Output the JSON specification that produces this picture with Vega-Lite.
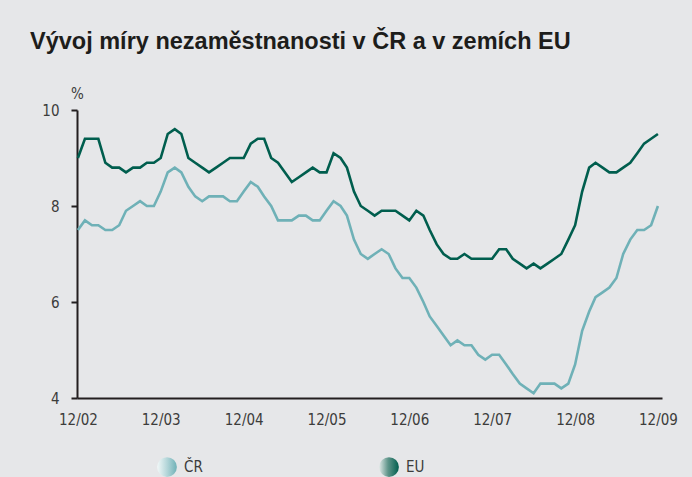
{
  "$schema": "https://vega.github.io/schema/vega-lite/v6.json",
  "width": 585,
  "height": 288,
  "autosize": {"type": "none"},
  "padding": {"left": 77, "top": 110, "right": 30, "bottom": 79},
  "background": "#e6e7e9",
  "title": {
    "text": "Vývoj míry nezaměstnanosti v ČR a v zemích EU",
    "anchor": "start",
    "frame": "group",
    "dx": -47,
    "font": "Liberation Sans, Arial, sans-serif",
    "fontSize": 23.5,
    "fontWeight": "bold",
    "color": "#1d1d1b",
    "offset": 33
  },
  "data": {
    "values": [
      {"date": "2002-12-01", "ČR": 7.5, "EU": 9.0},
      {"date": "2003-01-01", "ČR": 7.7, "EU": 9.4},
      {"date": "2003-02-01", "ČR": 7.6, "EU": 9.4},
      {"date": "2003-03-01", "ČR": 7.6, "EU": 9.4},
      {"date": "2003-04-01", "ČR": 7.5, "EU": 8.9},
      {"date": "2003-05-01", "ČR": 7.5, "EU": 8.8},
      {"date": "2003-06-01", "ČR": 7.6, "EU": 8.8},
      {"date": "2003-07-01", "ČR": 7.9, "EU": 8.7},
      {"date": "2003-08-01", "ČR": 8.0, "EU": 8.8},
      {"date": "2003-09-01", "ČR": 8.1, "EU": 8.8},
      {"date": "2003-10-01", "ČR": 8.0, "EU": 8.9},
      {"date": "2003-11-01", "ČR": 8.0, "EU": 8.9},
      {"date": "2003-12-01", "ČR": 8.3, "EU": 9.0},
      {"date": "2004-01-01", "ČR": 8.7, "EU": 9.5},
      {"date": "2004-02-01", "ČR": 8.8, "EU": 9.6},
      {"date": "2004-03-01", "ČR": 8.7, "EU": 9.5},
      {"date": "2004-04-01", "ČR": 8.4, "EU": 9.0},
      {"date": "2004-05-01", "ČR": 8.2, "EU": 8.9},
      {"date": "2004-06-01", "ČR": 8.1, "EU": 8.8},
      {"date": "2004-07-01", "ČR": 8.2, "EU": 8.7},
      {"date": "2004-08-01", "ČR": 8.2, "EU": 8.8},
      {"date": "2004-09-01", "ČR": 8.2, "EU": 8.9},
      {"date": "2004-10-01", "ČR": 8.1, "EU": 9.0},
      {"date": "2004-11-01", "ČR": 8.1, "EU": 9.0},
      {"date": "2004-12-01", "ČR": 8.3, "EU": 9.0},
      {"date": "2005-01-01", "ČR": 8.5, "EU": 9.3},
      {"date": "2005-02-01", "ČR": 8.4, "EU": 9.4},
      {"date": "2005-03-01", "ČR": 8.2, "EU": 9.4},
      {"date": "2005-04-01", "ČR": 8.0, "EU": 9.0},
      {"date": "2005-05-01", "ČR": 7.7, "EU": 8.9},
      {"date": "2005-06-01", "ČR": 7.7, "EU": 8.7},
      {"date": "2005-07-01", "ČR": 7.7, "EU": 8.5},
      {"date": "2005-08-01", "ČR": 7.8, "EU": 8.6},
      {"date": "2005-09-01", "ČR": 7.8, "EU": 8.7},
      {"date": "2005-10-01", "ČR": 7.7, "EU": 8.8},
      {"date": "2005-11-01", "ČR": 7.7, "EU": 8.7},
      {"date": "2005-12-01", "ČR": 7.9, "EU": 8.7},
      {"date": "2006-01-01", "ČR": 8.1, "EU": 9.1},
      {"date": "2006-02-01", "ČR": 8.0, "EU": 9.0},
      {"date": "2006-03-01", "ČR": 7.8, "EU": 8.8},
      {"date": "2006-04-01", "ČR": 7.3, "EU": 8.3},
      {"date": "2006-05-01", "ČR": 7.0, "EU": 8.0},
      {"date": "2006-06-01", "ČR": 6.9, "EU": 7.9},
      {"date": "2006-07-01", "ČR": 7.0, "EU": 7.8},
      {"date": "2006-08-01", "ČR": 7.1, "EU": 7.9},
      {"date": "2006-09-01", "ČR": 7.0, "EU": 7.9},
      {"date": "2006-10-01", "ČR": 6.7, "EU": 7.9},
      {"date": "2006-11-01", "ČR": 6.5, "EU": 7.8},
      {"date": "2006-12-01", "ČR": 6.5, "EU": 7.7},
      {"date": "2007-01-01", "ČR": 6.3, "EU": 7.9},
      {"date": "2007-02-01", "ČR": 6.0, "EU": 7.8},
      {"date": "2007-03-01", "ČR": 5.7, "EU": 7.5},
      {"date": "2007-04-01", "ČR": 5.5, "EU": 7.2},
      {"date": "2007-05-01", "ČR": 5.3, "EU": 7.0},
      {"date": "2007-06-01", "ČR": 5.1, "EU": 6.9},
      {"date": "2007-07-01", "ČR": 5.2, "EU": 6.9},
      {"date": "2007-08-01", "ČR": 5.1, "EU": 7.0},
      {"date": "2007-09-01", "ČR": 5.1, "EU": 6.9},
      {"date": "2007-10-01", "ČR": 4.9, "EU": 6.9},
      {"date": "2007-11-01", "ČR": 4.8, "EU": 6.9},
      {"date": "2007-12-01", "ČR": 4.9, "EU": 6.9},
      {"date": "2008-01-01", "ČR": 4.9, "EU": 7.1},
      {"date": "2008-02-01", "ČR": 4.7, "EU": 7.1},
      {"date": "2008-03-01", "ČR": 4.5, "EU": 6.9},
      {"date": "2008-04-01", "ČR": 4.3, "EU": 6.8},
      {"date": "2008-05-01", "ČR": 4.2, "EU": 6.7},
      {"date": "2008-06-01", "ČR": 4.1, "EU": 6.8},
      {"date": "2008-07-01", "ČR": 4.3, "EU": 6.7},
      {"date": "2008-08-01", "ČR": 4.3, "EU": 6.8},
      {"date": "2008-09-01", "ČR": 4.3, "EU": 6.9},
      {"date": "2008-10-01", "ČR": 4.2, "EU": 7.0},
      {"date": "2008-11-01", "ČR": 4.3, "EU": 7.3},
      {"date": "2008-12-01", "ČR": 4.7, "EU": 7.6},
      {"date": "2009-01-01", "ČR": 5.4, "EU": 8.3},
      {"date": "2009-02-01", "ČR": 5.8, "EU": 8.8},
      {"date": "2009-03-01", "ČR": 6.1, "EU": 8.9},
      {"date": "2009-04-01", "ČR": 6.2, "EU": 8.8},
      {"date": "2009-05-01", "ČR": 6.3, "EU": 8.7},
      {"date": "2009-06-01", "ČR": 6.5, "EU": 8.7},
      {"date": "2009-07-01", "ČR": 7.0, "EU": 8.8},
      {"date": "2009-08-01", "ČR": 7.3, "EU": 8.9},
      {"date": "2009-09-01", "ČR": 7.5, "EU": 9.1},
      {"date": "2009-10-01", "ČR": 7.5, "EU": 9.3},
      {"date": "2009-11-01", "ČR": 7.6, "EU": 9.4},
      {"date": "2009-12-01", "ČR": 8.0, "EU": 9.5}
    ]
  },
  "transform": [{"fold": ["ČR", "EU"], "as": ["series", "value"]}],
  "mark": {"type": "line", "strokeWidth": 2.6, "interpolate": "linear"},
  "encoding": {
    "x": {
      "field": "date",
      "type": "temporal",
      "scale": {
        "type": "utc",
        "domain": [
          {"year": 2002, "month": 11, "date": 27, "utc": true},
          {"year": 2009, "month": 12, "date": 19, "utc": true}
        ]
      },
      "axis": {
        "values": [
          {"year": 2002, "month": 12, "date": 1, "utc": true},
          {"year": 2003, "month": 12, "date": 1, "utc": true},
          {"year": 2004, "month": 12, "date": 1, "utc": true},
          {"year": 2005, "month": 12, "date": 1, "utc": true},
          {"year": 2006, "month": 12, "date": 1, "utc": true},
          {"year": 2007, "month": 12, "date": 1, "utc": true},
          {"year": 2008, "month": 12, "date": 1, "utc": true},
          {"year": 2009, "month": 12, "date": 1, "utc": true}
        ],
        "labelExpr": "utcFormat(datum.value, '%m/%y')",
        "ticks": false,
        "grid": false,
        "title": null,
        "labelPadding": 14,
        "labelFlush": false,
        "labelOverlap": false
      }
    },
    "y": {
      "field": "value",
      "type": "quantitative",
      "scale": {"domain": [4, 10], "nice": false, "zero": false},
      "axis": {
        "values": [4, 6, 8, 10],
        "grid": false,
        "tickSize": 6,
        "labelPadding": 12,
        "title": "%",
        "titleAngle": 0,
        "titleX": 0,
        "titleY": -12,
        "titleAlign": "center",
        "titleBaseline": "alphabetic",
        "titleFontWeight": "normal",
        "titleFontSize": 15,
        "titleColor": "#3c3c3b",
        "titleFont": "Liberation Sans Narrow, DejaVu Sans Condensed, Roboto, sans-serif"
      }
    },
    "color": {
      "field": "series",
      "type": "nominal",
      "scale": {"domain": ["ČR", "EU"], "range": ["#6fb1b7", "#005e4e"]},
      "legend": {
        "orient": "none",
        "legendX": 80,
        "legendY": 347,
        "direction": "horizontal",
        "title": null,
        "symbolType": "circle",
        "symbolSize": 390,
        "symbolStrokeWidth": 0,
        "labelFont": "Liberation Sans Narrow, DejaVu Sans Condensed, Roboto, sans-serif",
        "labelFontSize": 15,
        "labelColor": "#3c3c3b",
        "labelOffset": 7,
        "columnPadding": 176,
        "padding": 0,
        "encode": {
          "symbols": {
            "update": {
              "fill": [
                {
                  "test": "datum.value === 'EU'",
                  "value": {
                    "gradient": "linear",
                    "x1": 0, "y1": 0, "x2": 1, "y2": 0,
                    "stops": [
                      {"offset": 0, "color": "#dfe8e6"},
                      {"offset": 0.45, "color": "#5f958a"},
                      {"offset": 1, "color": "#005e4e"}
                    ]
                  }
                },
                {
                  "value": {
                    "gradient": "linear",
                    "x1": 0, "y1": 0, "x2": 1, "y2": 0,
                    "stops": [
                      {"offset": 0, "color": "#f2f8f8"},
                      {"offset": 0.5, "color": "#b4d6d9"},
                      {"offset": 1, "color": "#6fb1b7"}
                    ]
                  }
                }
              ],
              "opacity": {"value": 1},
              "strokeWidth": {"value": 0}
            }
          }
        }
      }
    }
  },
  "config": {
    "view": {"stroke": null},
    "font": "Liberation Sans Narrow, DejaVu Sans Condensed, Roboto, sans-serif",
    "axis": {
      "domainColor": "#231f20",
      "domainWidth": 2,
      "tickColor": "#231f20",
      "tickWidth": 2,
      "labelFont": "Liberation Sans Narrow, DejaVu Sans Condensed, Roboto, sans-serif",
      "labelFontSize": 15,
      "labelColor": "#3c3c3b"
    }
  }
}
